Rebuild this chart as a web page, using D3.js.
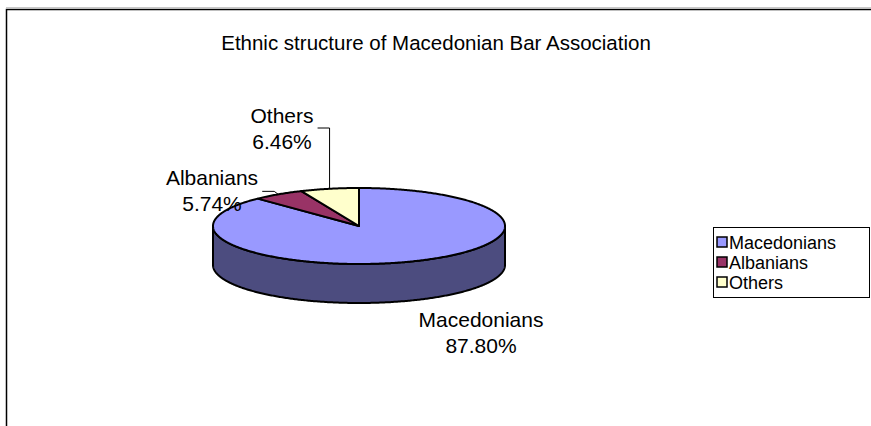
<!DOCTYPE html>
<html>
<head>
<meta charset="utf-8">
<script src="https://cdn.jsdelivr.net/npm/d3@7/dist/d3.min.js"></script>
<style>
  body { margin: 0; background: #fff; overflow: hidden; }
  svg { display: block; }
  text { font-family: "Liberation Sans", Arial, sans-serif; fill: #000; }
</style>
</head>
<body>
<div id="chart"></div>
<script>
// data
var categories = ["Macedonians", "Albanians", "Others"];
var shares = [87.80, 5.74, 6.46];
var percentLabels = ["87.80%", "5.74%", "6.46%"];

var topColors = ["#9999ff", "#993366", "#ffffcc"];
var sideColors = ["#4c4c7f", "#4c1933", "#7f7f66"];

var W = 871, H = 426,
	cx = 359, cy = 226, rx = 146, ry = 38, depth = 39;

var svg = d3.select("#chart").append("svg")
	.attr("width", W)
	.attr("height", H);

// chart frame (runs off the right / bottom edge)
svg.append("line").attr("x1", 6).attr("y1", 7.5).attr("x2", W).attr("y2", 7.5)
	.attr("stroke", "#c8c8c8").attr("stroke-width", 1);
svg.append("path")
	.attr("d", "M6.5," + H + "V9.5H" + W)
	.attr("fill", "none").attr("stroke", "#000").attr("stroke-width", 1.5);

svg.append("text")
	.attr("x", 436).attr("y", 50)
	.attr("text-anchor", "middle")
	.attr("font-size", "20.5px")
	.text("Ethnic structure of Macedonian Bar Association");

var pie = d3.pie().sort(null).value(function(d) { return d; });
var arcs = pie(shares);

// angle measured clockwise from 12 o'clock, projected on a tilted ellipse
function pt(a, dz) {
	return [cx + rx * Math.sin(a), cy - ry * Math.cos(a) + (dz || 0)];
}
function rim(a0, a1, dz) {
	var n = Math.max(2, Math.ceil(Math.abs(a1 - a0) / 0.01));
	return d3.range(n + 1).map(function(i) { return pt(a0 + (a1 - a0) * i / n, dz); });
}
var line = d3.line();

var g = svg.append("g");

// side walls: only the front half (pi/2 .. 3pi/2) is visible
arcs.forEach(function(d, i) {
	var a0 = Math.max(d.startAngle, Math.PI / 2),
		a1 = Math.min(d.endAngle, 3 * Math.PI / 2);
	if (a1 <= a0) return;
	var pts = rim(a0, a1, 0).concat(rim(a1, a0, depth));
	g.append("path")
		.attr("d", line(pts) + "Z")
		.attr("fill", sideColors[i])
		.attr("stroke", "#000")
		.attr("stroke-width", 2)
		.attr("stroke-linejoin", "round");
});

// top faces
arcs.forEach(function(d, i) {
	var pts = [[cx, cy]].concat(rim(d.startAngle, d.endAngle, 0));
	g.append("path")
		.attr("d", line(pts) + "Z")
		.attr("fill", topColors[i])
		.attr("stroke", "#000")
		.attr("stroke-width", 2)
		.attr("stroke-linejoin", "round");
});

// data labels (layout: text centre x, first baseline)
var labelPos = [[481, 327], [212, 185], [282, 123]];
var lineGap = 26;

arcs.forEach(function(d, i) {
	var t = svg.append("text")
		.attr("text-anchor", "middle")
		.attr("font-size", "21px");
	t.append("tspan").attr("x", labelPos[i][0]).attr("y", labelPos[i][1]).text(categories[i]);
	t.append("tspan").attr("x", labelPos[i][0]).attr("y", labelPos[i][1] + lineGap).text(percentLabels[i]);
});

// leader lines from slice mid-angle on the rim
var mid = function(d) { return (d.startAngle + d.endAngle) / 2; };
var pOthers = pt(mid(arcs[2]), 0);
svg.append("path")
	.attr("d", line([pOthers, [pOthers[0], labelPos[2][1] + 5], [pOthers[0] - 12, labelPos[2][1] + 5]]))
	.attr("fill", "none").attr("stroke", "#000").attr("stroke-width", 1);
var pAlb = pt(mid(arcs[1]), 0);
svg.append("path")
	.attr("d", line([pAlb, [pAlb[0] - 4, pAlb[1] - 3], [pAlb[0] - 16, pAlb[1] - 3]]))
	.attr("fill", "none").attr("stroke", "#000").attr("stroke-width", 1);

// legend
var legend = svg.append("g").attr("transform", "translate(713,227)");
legend.append("rect")
	.attr("x", 0.5).attr("y", 0.5)
	.attr("width", 156).attr("height", 70)
	.attr("fill", "#fff").attr("stroke", "#000").attr("stroke-width", 1);

var rowY = d3.scalePoint().domain(categories).range([15, 55]);
var item = legend.selectAll("g.item").data(categories).enter()
	.append("g").attr("class", "item")
	.attr("transform", function(d) { return "translate(0," + rowY(d) + ")"; });
item.append("rect")
	.attr("x", 4).attr("y", -5)
	.attr("width", 10).attr("height", 10)
	.attr("fill", function(d, i) { return topColors[i]; })
	.attr("stroke", "#000").attr("stroke-width", 1.5);
item.append("text")
	.attr("x", 16).attr("y", 6.5)
	.attr("font-size", "18px")
	.text(function(d) { return d; });
</script>
</body>
</html>
